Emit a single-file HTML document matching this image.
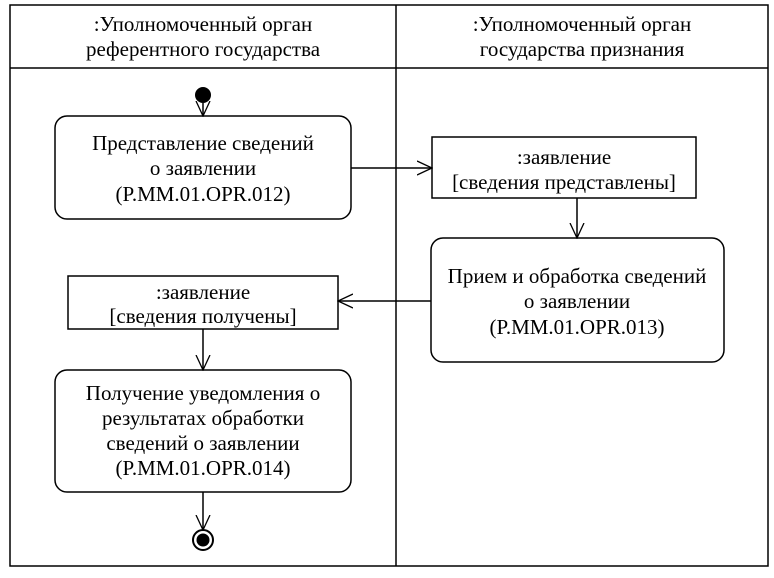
<!DOCTYPE html>
<html><head><meta charset="utf-8"><style>
body{margin:0;background:#fff}
text{font-family:"Liberation Serif","DejaVu Serif",serif;font-size:21px;fill:#000}
</style></head><body>
<svg width="774" height="573" viewBox="0 0 774 573" xmlns="http://www.w3.org/2000/svg">
<defs><marker id="a" markerWidth="16" markerHeight="16" refX="15" refY="8" orient="auto" markerUnits="userSpaceOnUse"><path d="M0,1 L15,8 L0,15" fill="none" stroke="#000" stroke-width="1.3"/></marker></defs>
<g fill="none" stroke="#000" stroke-width="1.5">
<rect x="10" y="5" width="758" height="561"/>
<line x1="10" y1="68" x2="768" y2="68"/>
<line x1="396" y1="5" x2="396" y2="566"/>
<rect x="55" y="116" width="296" height="103" rx="12"/>
<rect x="432" y="137" width="264" height="61"/>
<rect x="431" y="238" width="293" height="124" rx="12"/>
<rect x="68" y="276" width="270" height="53"/>
<rect x="55" y="370" width="296" height="122" rx="12"/>
<line x1="203" y1="103" x2="203" y2="116" marker-end="url(#a)"/>
<line x1="351" y1="168" x2="432" y2="168" marker-end="url(#a)"/>
<line x1="577" y1="198" x2="577" y2="238" marker-end="url(#a)"/>
<line x1="431" y1="301" x2="338" y2="301" marker-end="url(#a)"/>
<line x1="203" y1="329" x2="203" y2="370" marker-end="url(#a)"/>
<line x1="203" y1="492" x2="203" y2="530" marker-end="url(#a)"/>
<circle cx="203" cy="540" r="10" stroke-width="2"/>
</g>
<circle cx="203" cy="95" r="8" fill="#000"/>
<circle cx="203" cy="540" r="6.5" fill="#000"/>
<g text-anchor="middle">
<text x="203" y="31">:Уполномоченный орган</text>
<text x="203" y="56">референтного государства</text>
<text x="582" y="31">:Уполномоченный орган</text>
<text x="582" y="56">государства признания</text>
<text x="203" y="150">Представление сведений</text>
<text x="203" y="175">о заявлении</text>
<text x="203" y="201">(P.MM.01.OPR.012)</text>
<text x="564" y="164">:заявление</text>
<text x="564" y="189">[сведения представлены]</text>
<text x="577" y="283">Прием и обработка сведений</text>
<text x="577" y="308">о заявлении</text>
<text x="577" y="334">(P.MM.01.OPR.013)</text>
<text x="203" y="299">:заявление</text>
<text x="203" y="323">[сведения получены]</text>
<text x="203" y="400">Получение уведомления о</text>
<text x="203" y="425">результатах обработки</text>
<text x="203" y="450">сведений о заявлении</text>
<text x="203" y="475">(P.MM.01.OPR.014)</text>
</g>
</svg>
</body></html>
